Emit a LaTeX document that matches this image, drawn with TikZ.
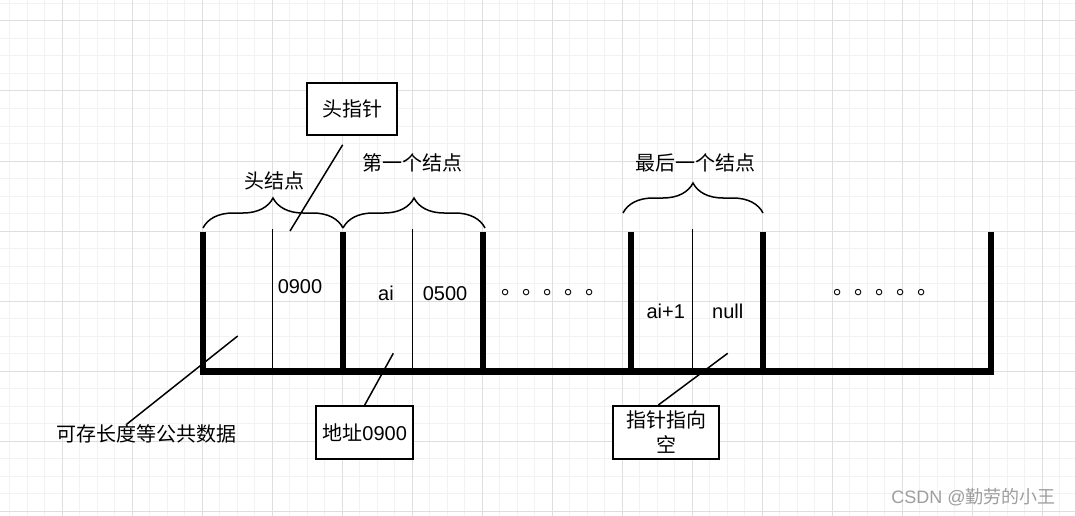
\documentclass[tikz,border=0pt]{standalone}
\usepackage{fontspec}
\setmainfont{Liberation Sans}
\newfontfamily\cjk{Noto Sans CJK SC}
\usetikzlibrary{decorations.pathreplacing}
\definecolor{gridmajor}{rgb}{0.87, 0.87, 0.87}
\definecolor{gridminor}{rgb}{0.95, 0.95, 0.95}
\definecolor{watermark}{rgb}{0.62, 0.62, 0.62}

\tikzset{
  wall/.style={line width=6.5pt},
  cell/.style={line width=1.5pt},
  callout/.style={line width=1.5pt},
  curly/.style={decorate, decoration={brace, amplitude=30pt}, line width=1.5pt},
  txt/.style={inner sep=0pt, font=\fontsize{20}{25}\selectfont},
  cjktxt/.style={inner sep=0pt, font=\cjk\fontsize{20}{25}\selectfont},
  dotrow/.style={inner sep=0pt, anchor=west, font=\cjk\fontsize{21}{25}\selectfont},
  note/.style={draw, line width=1.5pt, fill=white, inner sep=0pt, align=center, font=\cjk\fontsize{20}{25}\selectfont}
}

\begin{document}
\begin{tikzpicture}[x=1pt, y=-1pt]
\useasboundingbox[fill=white] (0, 0) rectangle (1075, 516);
\foreach \gx in {9.5, 27, ..., 1075} \draw[gridminor, line width=1pt] (\gx, 0) -- (\gx, 516);
\foreach \gy in {3.5, 21, ..., 516} \draw[gridminor, line width=1pt] (0, \gy) -- (1075, \gy);
\foreach \gx in {62, 132, ..., 1042} \draw[gridmajor, line width=1pt] (\gx, 0) -- (\gx, 516);
\foreach \gy in {21, 91, ..., 511} \draw[gridmajor, line width=1pt] (0, \gy) -- (1075, \gy);

\draw[wall] (203, 232) -- (203, 371.5) -- (991, 371.5) -- (991, 232);
\foreach \wx in {343, 483, 631, 763} \draw[wall] (\wx, 232) -- (\wx, 371.5);
\foreach \cx in {272.5, 412.5, 692.5} \draw[cell] (\cx, 229) -- (\cx, 371);

\draw[curly] (203, 228) -- (343, 228);
\draw[curly] (343, 228) -- (485, 228);
\draw[curly] (623, 213) -- (763, 213);
\node[cjktxt] (headnode) at (274, 181) {头结点};
\node[cjktxt] (firstnode) at (412, 162.5) {第一个结点};
\node[cjktxt] (lastnode) at (695, 162.5) {最后一个结点};

\node[txt, anchor=base] (headnext) at (300, 293) {0900};
\node[txt, anchor=base] (firstdata) at (386, 300.7) {ai};
\node[txt, anchor=base] (firstnext) at (445, 300.7) {0500};
\node[txt, anchor=base] (lastdata) at (665.7, 318.3) {ai+1};
\node[txt, anchor=base] (lastnext) at (727.7, 318.3) {null};
\node[dotrow] (gapa) at (501, 292.3) {。。。。。};
\node[dotrow] (gapb) at (833.5, 292.3) {。。。。。};

\node[note, minimum width=90pt, minimum height=52pt] (headptr) at (352, 109) {头指针};
\node[note, minimum width=97pt, minimum height=53pt] (addr) at (364.7, 432.3) {地址{\rmfamily 0900}};
\node[note, minimum width=105.7pt, minimum height=53pt] (nullptr) at (666, 432.3) {指针指向\\空};
\node[cjktxt] (common) at (146.7, 433.7) {可存长度等公共数据};

\coordinate (headcell) at (290, 231);
\coordinate (commoncell) at (237.7, 336);
\coordinate (addrcell) at (393.3, 353.3);
\coordinate (nullcell) at (727.7, 353.3);
\draw[callout, shorten <=10.6pt] ([xshift=-3.8pt]headptr.south) -- (headcell);
\draw[callout] (commoncell) -- ([xshift=-20pt]common.north);
\draw[callout] (addrcell) -- (addr.north);
\draw[callout] (nullcell) -- ([xshift=-7.7pt]nullptr.north);

\node[inner sep=0pt, text=watermark, font=\cjk\fontsize{18}{20}\selectfont] (csdn) at (973.5, 496.7) {{\rmfamily CSDN @}勤劳的小王};
\end{tikzpicture}
\end{document}
